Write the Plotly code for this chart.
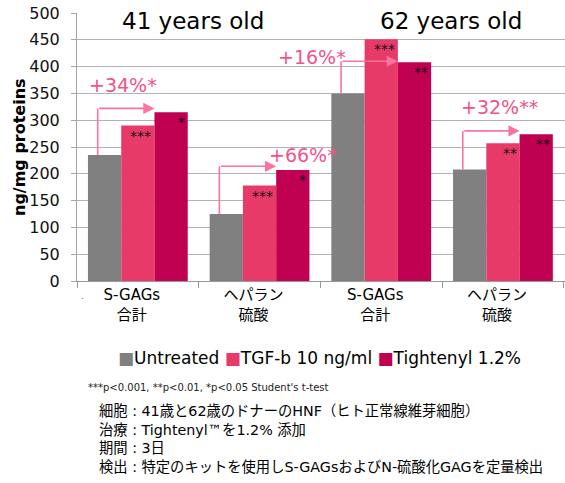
import plotly.graph_objects as go

# ---------------- data ----------------
categories = ["S-GAGs<br>合計", "ヘパラン<br>硫酸", "S-GAGs<br>合計", "ヘパラン<br>硫酸"]
cat_ids = ["g0", "g1", "g2", "g3"]
series_names = ["Untreated", "TGF-b 10 ng/ml", "Tightenyl 1.2%"]
untreated = [235, 125, 350, 208]
tgfb = [290, 178, 451, 257]
tightenyl = [315, 207, 408, 274]
tgfb_stars = ["***", "***", "***", "**"]
tightenyl_stars = ["*", "*", "**", "**"]
pct_labels = ["+34%*", "+66%*", "+16%*", "+32%**"]
age_titles = ["41 years old", "62 years old"]
y_ticks = list(range(0, 501, 50))
footnote = "***p<0.001, **p<0.01, *p<0.05 Student's t-test"
notes = [
    "細胞 : 41歳と62歳のドナーのHNF（ヒト正常線維芽細胞）",
    "治療 : Tightenyl\u2122を1.2% 添加",
    "期間 : 3日",
    "検出 : 特定のキットを使用しS-GAGsおよびN-硫酸化GAGを定量検出",
]

# ---------------- styles ----------------
colors = ["#808080", "#e83a69", "#c00050"]
arrow_color = "#fb74a0"
pct_color = "#f0548a"
W, H = 565, 483
ML, MT = 77, 13
MB = H - 281
PW = W - ML
PH = H - MT - MB

def px_x(px):
    return (px - ML) / PW

def px_y(py):
    return (H - MB - py) / PH

fig = go.Figure()
for name, vals, col in zip(series_names, [untreated, tgfb, tightenyl], colors):
    fig.add_trace(go.Bar(x=cat_ids, y=vals, name=name, marker_color=col,
                         marker_line_width=0, showlegend=False, hoverinfo="skip"))

annotations = []
shapes = []
bw = 0.82 / 3
# significance stars
for i in range(4):
    for vals, stars, k in [(tgfb, tgfb_stars, 1), (tightenyl, tightenyl_stars, 2)]:
        xr = i - 0.41 + bw * (k + 1)
        annotations.append(dict(x=xr, y=vals[i], xref="x", yref="y", text=stars[i],
                                showarrow=False, xanchor="right", yanchor="top",
                                xshift=-1, yshift=0,
                                font=dict(family="DejaVu Sans", size=14, color="#111")))
# arrows
arrow_off = -0.33
arrow_level = [322, 214, 410, 280]
for i in range(4):
    xs = i + arrow_off
    shapes.append(dict(type="line", xref="x", yref="y", x0=xs, x1=xs,
                       y0=untreated[i], y1=arrow_level[i],
                       line=dict(color=arrow_color, width=1.6)))
    tip = i - 0.41 + bw * 2
    annotations.append(dict(x=tip, y=arrow_level[i], ax=xs, ay=arrow_level[i],
                            xref="x", yref="y", axref="x", ayref="y", text="",
                            showarrow=True, arrowhead=2, arrowsize=1.4, arrowwidth=1.6,
                            arrowcolor=arrow_color, standoff=0, startstandoff=0))
# percent labels
pct_pos = [(-0.118, 366), (1.355, 235), (1.431, 418), (2.97, 325)]
for lab, (px_, py_) in zip(pct_labels, pct_pos):
    annotations.append(dict(x=px_, y=py_, xref="x", yref="y", text=lab, showarrow=False,
                            xanchor="center", yanchor="middle",
                            font=dict(family="DejaVu Sans", size=19, color=pct_color)))
# age titles
for t, xc in zip(age_titles, [0.45, 2.57]):
    annotations.append(dict(x=xc, y=px_y(21), xref="x", yref="paper", text=t,
                            showarrow=False, xanchor="center", yanchor="middle",
                            font=dict(family="DejaVu Sans", size=23, color="#000")))
# y axis title
annotations.append(dict(x=px_x(19), y=0.5, xref="paper", yref="paper", text="<b>ng/mg proteins</b>",
                        textangle=-90, showarrow=False, xanchor="center", yanchor="middle",
                        font=dict(family="DejaVu Sans", size=16, color="#000")))
# stray dot
annotations.append(dict(x=px_x(82), y=px_y(296), xref="paper", yref="paper", text=".",
                        showarrow=False, xanchor="center", yanchor="middle",
                        font=dict(family="DejaVu Sans", size=9, color="#666")))
# legend (drawn as text with coloured squares)
legend_text = " ".join(
    f"<span style='color:{c}'>\u25A0</span>{n}" for n, c in zip(series_names, colors))
annotations.append(dict(x=px_x(319), y=px_y(358), xref="paper", yref="paper", text=legend_text,
                        showarrow=False, xanchor="center", yanchor="middle",
                        font=dict(family="DejaVu Sans", size=17, color="#000")))
# footnote
annotations.append(dict(x=px_x(86), y=px_y(387), xref="paper", yref="paper", text=footnote,
                        showarrow=False, xanchor="left", yanchor="middle",
                        font=dict(family="DejaVu Sans", size=10, color="#222")))
annotations.append(dict(x=px_x(97), y=px_y(439), xref="paper", yref="paper",
                        text="<br>".join(notes), align="left", showarrow=False,
                        xanchor="left", yanchor="middle",
                        font=dict(family="DejaVu Sans, Noto Sans CJK JP", size=14.3, color="#000")))

fig.update_layout(
    width=W, height=H,
    margin=dict(l=ML, r=0, t=MT, b=MB, pad=0, autoexpand=False),
    paper_bgcolor="white", plot_bgcolor="white",
    barmode="group", bargap=0.18, bargroupgap=0,
    showlegend=False, hovermode=False,
    annotations=annotations, shapes=shapes,
    xaxis=dict(type="category", range=[-0.5, 3.51], tickmode="array", tickvals=cat_ids,
               ticktext=categories, tickson="boundaries", ticks="outside", ticklen=6,
               tickcolor="#999", showline=True, linecolor="#999", linewidth=1,
               showgrid=False, fixedrange=True, ticklabelshift=-6,
               tickfont=dict(family="DejaVu Sans, Noto Sans CJK JP", size=15, color="#000")),
    yaxis=dict(range=[0, 500], tickmode="array", tickvals=y_ticks, ticks="outside",
               ticklen=5, tickcolor="#a6a6a6", showline=True, linecolor="#a6a6a6",
               gridcolor="#b3b3b3", gridwidth=1, zeroline=False, ticklabelstandoff=8,
               fixedrange=True,
               tickfont=dict(family="DejaVu Sans", size=16, color="#111")),
)

fig.write_html("out.html", config={"displayModeBar": False, "staticPlot": True},
               post_script="document.body.style.margin='0';document.body.style.overflow='hidden';")
